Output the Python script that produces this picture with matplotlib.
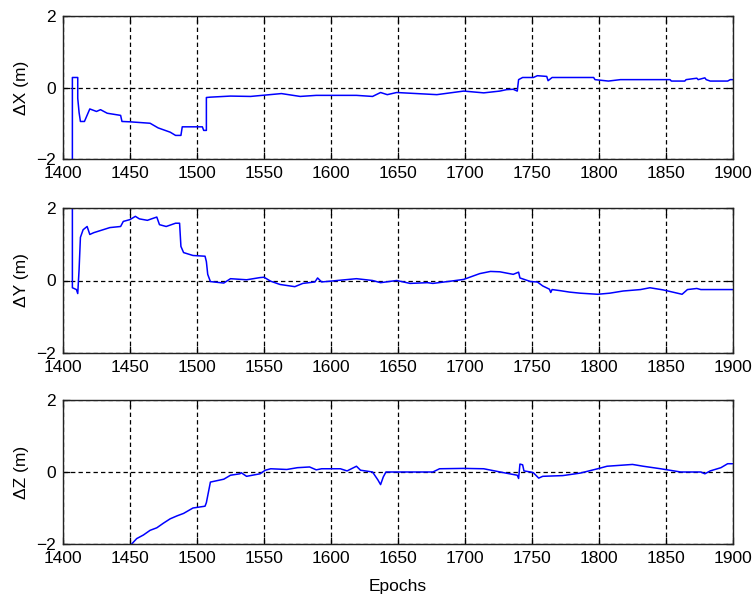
import numpy as np
import matplotlib.pyplot as plt

# --- Data -------------------------------------------------------------------------------------------------------------
epochs_x = [1407, 1407, 1411, 1411, 1412, 1413, 1416, 1420, 1425, 1428,
            1433, 1443, 1444, 1450, 1465, 1471, 1480, 1484, 1488, 1489,
            1504, 1505, 1507, 1507, 1510, 1525, 1540, 1563, 1577, 1589,
            1619, 1631, 1637, 1642, 1649, 1664, 1679, 1699, 1714, 1726,
            1731, 1736, 1739, 1740, 1743, 1751, 1754, 1761, 1762, 1765,
            1796, 1797, 1807, 1816, 1853, 1854, 1864, 1865, 1873, 1874,
            1879, 1880, 1883, 1896, 1898, 1900]
dx = [-3.0, 0.28, 0.28, -0.3, -0.7, -0.95, -0.95, -0.6, -0.67, -0.62,
      -0.72, -0.78, -0.95, -0.96, -1.0, -1.13, -1.25, -1.34, -1.34, -1.1,
      -1.1, -1.2, -1.2, -0.28, -0.27, -0.24, -0.25, -0.17, -0.25, -0.22,
      -0.22, -0.25, -0.14, -0.2, -0.14, -0.17, -0.2, -0.1, -0.15, -0.1,
      -0.06, -0.05, -0.1, 0.22, 0.28, 0.28, 0.33, 0.31, 0.19, 0.28,
      0.28, 0.22, 0.18, 0.22, 0.22, 0.18, 0.18, 0.22, 0.26, 0.22,
      0.27, 0.22, 0.18, 0.18, 0.22, 0.22]

epochs_y = [1407, 1407, 1410, 1411, 1412, 1413, 1415, 1418, 1420, 1423,
            1435, 1443, 1445, 1450, 1454, 1457, 1463, 1466, 1470, 1472,
            1477, 1484, 1487, 1488, 1490, 1497, 1506, 1507, 1508, 1510,
            1520, 1525, 1537, 1547, 1550, 1555, 1562, 1573, 1579, 1588,
            1590, 1593, 1599, 1619, 1631, 1637, 1649, 1659, 1672, 1676,
            1689, 1699, 1711, 1719, 1726, 1736, 1740, 1741, 1749, 1754,
            1758, 1763, 1764, 1765, 1771, 1778, 1786, 1799, 1808, 1818,
            1831, 1838, 1848, 1855, 1862, 1866, 1873, 1876, 1900]
dy = [3.0, -0.2, -0.25, -0.36, 0.3, 1.19, 1.4, 1.49, 1.27, 1.32,
      1.46, 1.49, 1.63, 1.68, 1.77, 1.7, 1.66, 1.7, 1.75, 1.54,
      1.49, 1.58, 1.58, 0.94, 0.77, 0.69, 0.67, 0.52, 0.17, -0.03,
      -0.07, 0.05, 0.02, 0.08, 0.09, -0.02, -0.11, -0.17, -0.08, -0.04,
      0.07, -0.04, -0.02, 0.05, 0.0, -0.06, 0.0, -0.08, -0.06, -0.08,
      -0.02, 0.03, 0.19, 0.25, 0.24, 0.17, 0.23, 0.07, -0.03, -0.04,
      -0.15, -0.24, -0.33, -0.25, -0.28, -0.32, -0.35, -0.38, -0.35, -0.29,
      -0.25, -0.2, -0.26, -0.32, -0.38, -0.25, -0.22, -0.25, -0.25]

epochs_z = [1450, 1455, 1460, 1465, 1470, 1475, 1480, 1485, 1490, 1497,
            1506, 1507, 1510, 1520, 1525, 1532, 1533, 1537, 1547, 1551,
            1555, 1567, 1575, 1584, 1589, 1593, 1607, 1612, 1619, 1622,
            1631, 1635, 1637, 1639, 1641, 1676, 1681, 1699, 1714, 1729,
            1739, 1740, 1741, 1743, 1744, 1749, 1751, 1755, 1758, 1773,
            1786, 1799, 1806, 1825, 1833, 1846, 1861, 1876, 1879, 1883,
            1891, 1896, 1900]
dz = [-2.05, -1.85, -1.75, -1.62, -1.55, -1.42, -1.3, -1.22, -1.15, -1.0,
      -0.95, -0.85, -0.28, -0.2, -0.09, -0.05, -0.02, -0.12, -0.05, 0.05,
      0.09, 0.07, 0.12, 0.14, 0.06, 0.09, 0.09, 0.03, 0.16, 0.05,
      0.0, -0.22, -0.35, -0.14, 0.0, 0.0, 0.09, 0.1, 0.09, -0.02,
      -0.09, -0.18, 0.22, 0.2, 0.03, 0.0, -0.02, -0.17, -0.12, -0.1,
      -0.03, 0.09, 0.16, 0.21, 0.16, 0.09, 0.0, 0.0, -0.05, 0.03,
      0.12, 0.23, 0.23]

ylabels = ["\u0394X (m)", "\u0394Y (m)", "\u0394Z (m)"]
xticks = [1400, 1450, 1500, 1550, 1600, 1650, 1700, 1750, 1800, 1850, 1900]
yticks = [-2, 0, 2]

# --- Plot -------------------------------------------------------------------------------------------------------------
plt.rcParams['font.family'] = ['Liberation Sans', 'DejaVu Sans']
plt.rcParams['font.size'] = 12.5

fig = plt.figure(figsize=(7.53, 6.03), dpi=100)
W, H = 753.0, 603.0
left, right = 63, 733
tops = [16, 208, 400]
bottoms = [159, 353, 544]

series = [(epochs_x, dx), (epochs_y, dy), (epochs_z, dz)]
for i in range(3):
    ax = fig.add_axes([left / W, (H - bottoms[i]) / H, (right - left) / W, (bottoms[i] - tops[i]) / H])
    ep, val = series[i]
    ax.plot(ep, val, color=(0, 0, 1), linewidth=1.1)
    ax.set_xlim(1400, 1900)
    ax.set_ylim(-2, 2)
    ax.set_xticks(xticks)
    ax.set_yticks(yticks)
    ax.grid(True, color='black', linestyle=(0, (3.5, 2.5)), linewidth=0.9)
    ax.tick_params(direction='in', top=True, right=True, length=5, width=0.9, pad=5, colors='black')
    for s in ax.spines.values():
        s.set_linewidth(1.0)
        s.set_color('#222222')
    ax.set_ylabel(ylabels[i])
    ax.yaxis.set_label_coords(-0.05, 0.5)

fig.text((left + right) / 2 / W, 1 - 586 / H, "Epochs", ha='center', va='center', fontsize=12.5)

fig.savefig("out.png", dpi=100)
